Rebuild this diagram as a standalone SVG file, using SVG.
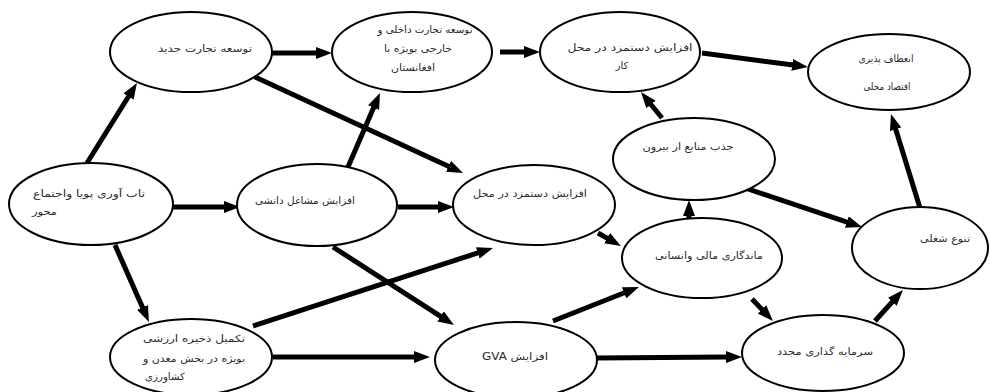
<svg xmlns="http://www.w3.org/2000/svg" width="990" height="392" viewBox="0 0 990 392">
<style>
.n ellipse{fill:#fff;stroke:#000;stroke-width:2}
.n text{font-family:"DejaVu Sans","Noto Sans",sans-serif;font-size:10px;fill:#2a2a2a}
.c line{stroke:#000;stroke-width:5;marker-end:url(#ah)}
</style>
<defs>
<marker id="ah" markerUnits="userSpaceOnUse" markerWidth="16" markerHeight="12" refX="1" refY="6" orient="auto"><path d="M0,0 L16,6 L0,12 z" fill="#000"/></marker>
</defs>
<rect width="990" height="392" fill="#fff"/>
<g class="c" id="connectors">
<line x1="87" y1="163" x2="129" y2="95.7"/>
<line x1="173" y1="207" x2="225" y2="207"/>
<line x1="115" y1="245" x2="142.9" y2="308.3"/>
<line x1="272" y1="53" x2="317" y2="53"/>
<line x1="255" y1="77" x2="449.4" y2="166.7"/>
<line x1="348" y1="167" x2="374" y2="106.8"/>
<line x1="398" y1="207" x2="439" y2="207"/>
<line x1="333" y1="247" x2="441.4" y2="316.9"/>
<line x1="253" y1="326" x2="478.7" y2="252.6"/>
<line x1="273" y1="357" x2="415" y2="357"/>
<line x1="500" y1="52" x2="525" y2="52"/>
<line x1="702" y1="53" x2="793.1" y2="65"/>
<line x1="662" y1="118" x2="650.4" y2="103.7"/>
<line x1="598" y1="233" x2="607.9" y2="238.6"/>
<line x1="689" y1="218" x2="689" y2="215"/>
<line x1="745" y1="188" x2="847.8" y2="222.3"/>
<line x1="920" y1="208" x2="895.4" y2="128.3"/>
<line x1="553" y1="321" x2="625" y2="292.5"/>
<line x1="597" y1="358" x2="727" y2="357"/>
<line x1="752" y1="299" x2="762.6" y2="310.1"/>
<line x1="875" y1="321" x2="892.9" y2="301.1"/>
</g>
<g class="n" id="n1"><ellipse cx="191" cy="52" rx="81" ry="40"/><text x="205" y="52" text-anchor="middle" textLength="94" lengthAdjust="spacingAndGlyphs">توسعه تجارت جدید</text></g>
<g class="n" id="n2"><ellipse cx="412" cy="52" rx="80" ry="40"/><text x="425" y="33" text-anchor="middle" textLength="95" lengthAdjust="spacingAndGlyphs">توسعه تجارت داخلی و</text><text x="418" y="52" text-anchor="middle" textLength="68" lengthAdjust="spacingAndGlyphs">خارجی بویژه با</text><text x="413" y="71" text-anchor="middle" textLength="44" lengthAdjust="spacingAndGlyphs">افغانستان</text></g>
<g class="n" id="n3"><ellipse cx="620" cy="52" rx="80" ry="40"/><text x="630" y="51" text-anchor="middle" textLength="125" lengthAdjust="spacingAndGlyphs">افزایش دستمزد در محل</text><text x="622" y="69" text-anchor="middle">کار</text></g>
<g class="n" id="n4"><ellipse cx="889" cy="72" rx="81" ry="38"/><text x="886" y="62" text-anchor="middle" textLength="55" lengthAdjust="spacingAndGlyphs">انعطاف پذیری</text><text x="887" y="90" text-anchor="middle" textLength="47" lengthAdjust="spacingAndGlyphs">اقتصاد محلی</text></g>
<g class="n" id="n5"><ellipse cx="91" cy="204" rx="82" ry="41"/><text x="33" y="197" text-anchor="start" textLength="112" lengthAdjust="spacingAndGlyphs">تاب آوری پویا واجتماع</text><text x="32" y="215" text-anchor="start" textLength="25" lengthAdjust="spacingAndGlyphs">محور</text></g>
<g class="n" id="n6"><ellipse cx="317" cy="205" rx="80" ry="41"/><text x="305" y="204" text-anchor="middle" textLength="100" lengthAdjust="spacingAndGlyphs">افزایش مشاغل دانشی</text></g>
<g class="n" id="n7"><ellipse cx="534" cy="205" rx="81" ry="40"/><text x="530" y="197" text-anchor="middle" textLength="114" lengthAdjust="spacingAndGlyphs">افزایش دستمزد در محل</text></g>
<g class="n" id="n8"><ellipse cx="694" cy="159" rx="81" ry="41"/><text x="688" y="150" text-anchor="middle" textLength="91" lengthAdjust="spacingAndGlyphs">جذب منابع از بیرون</text></g>
<g class="n" id="n9"><ellipse cx="702" cy="258" rx="80" ry="40"/><text x="709" y="259" text-anchor="middle" textLength="108" lengthAdjust="spacingAndGlyphs">ماندگاری مالی وانسانی</text></g>
<g class="n" id="n10"><ellipse cx="920" cy="248" rx="68" ry="41"/><text x="945" y="242" text-anchor="middle" textLength="50" lengthAdjust="spacingAndGlyphs">تنوع شغلی</text></g>
<g class="n" id="n11"><ellipse cx="191" cy="357" rx="81" ry="38"/><text x="143" y="342" text-anchor="start" textLength="102" lengthAdjust="spacingAndGlyphs">تکمیل ذخیره ارزشی</text><text x="143" y="362" text-anchor="start" textLength="102" lengthAdjust="spacingAndGlyphs">بویژه در بخش معدن و</text><text x="145" y="380" text-anchor="start" textLength="40" lengthAdjust="spacingAndGlyphs">کشاورزی</text></g>
<g class="n" id="n12"><ellipse cx="516" cy="360" rx="81" ry="38"/><text x="515" y="360" text-anchor="middle" direction="rtl" textLength="66" lengthAdjust="spacingAndGlyphs">افزایش GVA</text></g>
<g class="n" id="n13"><ellipse cx="823" cy="353" rx="81" ry="38"/><text x="825" y="355" text-anchor="middle" textLength="96" lengthAdjust="spacingAndGlyphs">سرمایه گذاری مجدد</text></g>
</svg>
